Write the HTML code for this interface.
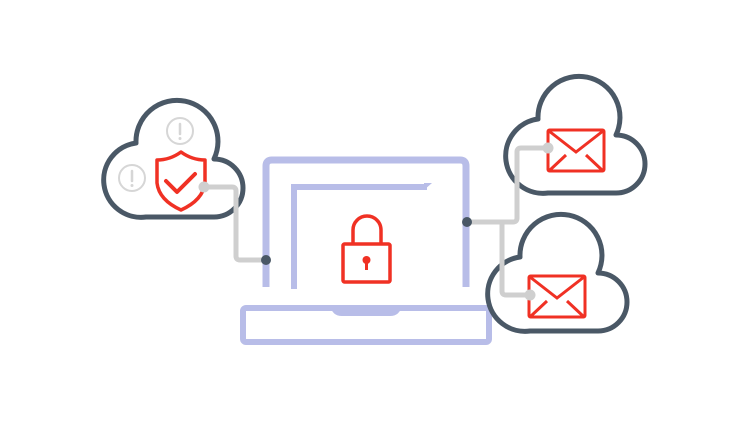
<!DOCTYPE html>
<html><head><meta charset="utf-8"><style>html,body{margin:0;padding:0;background:#fff}svg{display:block}</style></head>
<body>
<svg width="752" height="423" viewBox="0 0 752 423" xmlns="http://www.w3.org/2000/svg">
<defs>
<path id="cloud" d="M 40 116 A 37 37 0 0 1 30 42 A 41 41 0 1 1 108 58 A 29 29 0 0 1 108 116 Z" fill="#fff" stroke="#4a5866" stroke-width="5" stroke-linejoin="round"/>
<g id="env" fill="none" stroke="#f03124" stroke-width="3">
<rect x="0" y="0" width="56" height="41" rx="1.5"/>
<path d="M1 1 L28 22 L55 1 M2 40 L18 25 M54 40 L38 25"/>
</g>
</defs>

<!-- laptop -->
<g fill="none" stroke="#b8bde8" stroke-width="7">
<path d="M266 287 V166 Q266 160 272 160 H460 Q466 160 466 166 V287"/>
<path d="M294 289 V187 H427" stroke-width="6"/>
<rect x="243" y="308" width="246" height="34" rx="3" stroke-width="6"/>
</g>
<path d="M424 183 L432 183 L424 190 Z" fill="#b8bde8"/>
<path d="M330 305 H402 Q400 316 390 316 H342 Q332 316 330 305 Z" fill="#b8bde8"/>

<!-- lock -->
<g fill="none" stroke="#f03124" stroke-width="3.5">
<path d="M353 244 V230 A14 14 0 0 1 381 230 V244"/>
<rect x="343" y="244" width="47" height="38" rx="1.5"/>
</g>
<circle cx="366.5" cy="260" r="4" fill="#f03124"/>
<rect x="365" y="261" width="3" height="9" fill="#f03124"/>

<!-- clouds -->
<use href="#cloud" transform="translate(106,101)"/>
<use href="#cloud" transform="translate(508,77)"/>
<use href="#cloud" transform="translate(490,215)"/>

<!-- connectors -->
<g fill="none" stroke="#cfcfcf" stroke-width="5" stroke-linejoin="round">
<path d="M204 187 H232 Q236 187 236 191 V256 Q236 260 240 260 H266"/>
<path d="M467 222 H513 Q517 222 517 218 V152 Q517 148 521 148 H548"/>
<path d="M502 222 V291 Q502 295 506 295 H530"/>
</g>

<!-- left cloud contents -->
<g fill="none" stroke="#d6d6d6" stroke-width="2">
<circle cx="180" cy="131" r="13"/>
<circle cx="132" cy="178" r="13"/>
</g>
<g stroke="#d6d6d6" stroke-width="2.5" stroke-linecap="round">
<line x1="180" y1="124" x2="180" y2="134"/>
<line x1="132" y1="171" x2="132" y2="181"/>
</g>
<circle cx="180" cy="138.5" r="1.5" fill="#d6d6d6"/>
<circle cx="132" cy="185.5" r="1.5" fill="#d6d6d6"/>
<path d="M181 152 Q192 160 205 160 V183 Q203 200 181 210 Q159 200 157 183 V160 Q170 160 181 152 Z" fill="#fff" stroke="#f03124" stroke-width="3.5" stroke-linejoin="round"/>
<path d="M166 181 L177 192 L195 174" fill="none" stroke="#f03124" stroke-width="4" stroke-linecap="round" stroke-linejoin="round"/>

<!-- envelopes -->
<use href="#env" transform="translate(548,130)"/>
<use href="#env" transform="translate(529,276)"/>

<!-- dots -->
<circle cx="204" cy="187" r="5.5" fill="#cfcfcf"/>
<circle cx="548" cy="148" r="5.5" fill="#cfcfcf"/>
<circle cx="530" cy="295" r="5.5" fill="#cfcfcf"/>
<circle cx="266" cy="260" r="5" fill="#4a5866"/>
<circle cx="467" cy="222" r="5" fill="#4a5866"/>
</svg>
</body></html>
